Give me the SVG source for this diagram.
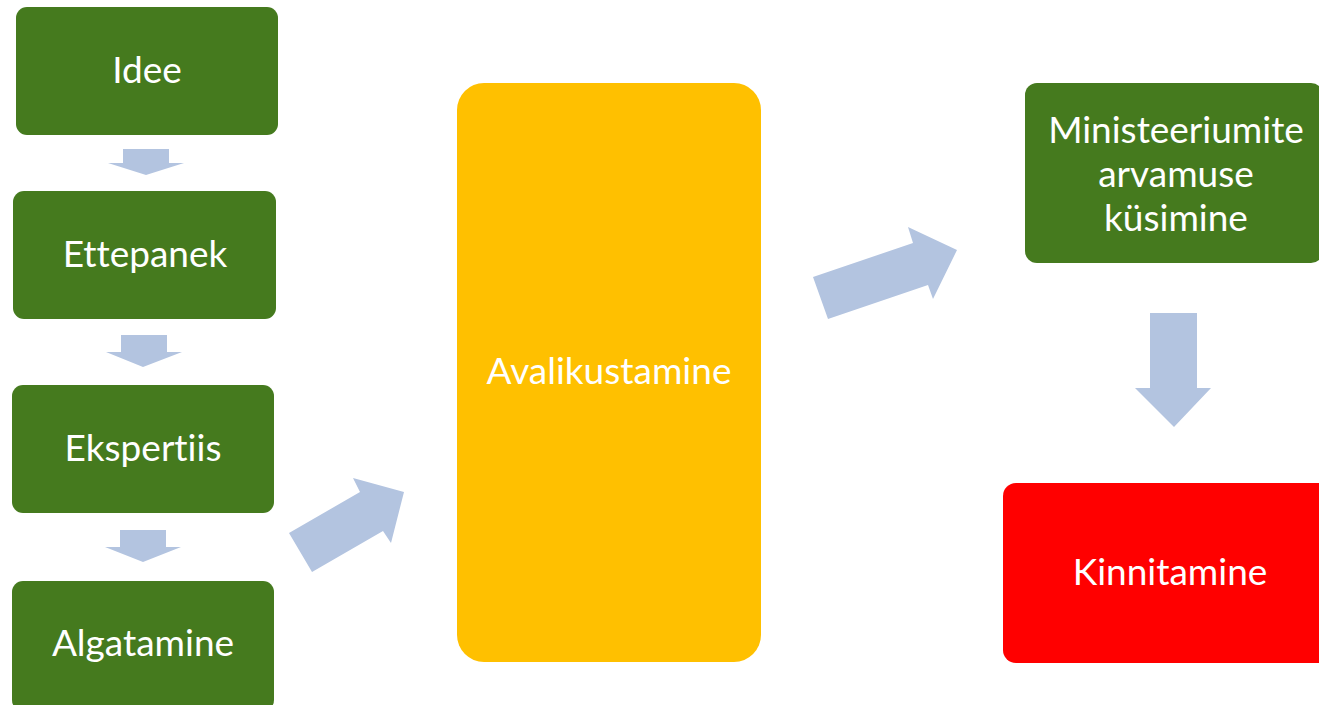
<svg xmlns="http://www.w3.org/2000/svg" width="1319" height="705" viewBox="0 0 1319 705">
<style>
.g{fill:#457A1E}
.t{fill:#fff;font-family:Lato,"Open Sans",sans-serif;font-size:37px;text-anchor:middle;font-variant-ligatures:none;font-feature-settings:"liga" 0,"dlig" 0}
.a{fill:#B3C4E0}
</style>
<rect width="1319" height="705" fill="#fff"/>
<g id="connectors">
<polygon class="a" points="123,149 169,149 169,163 184,163 146,175 108,163 123,163"/>
<polygon class="a" points="121,335 167,335 167,352 182,352 143,367 106,352 121,352"/>
<polygon class="a" points="120,530 166,530 166,547 181,547 143,562 105,547 120,547"/>
<polygon class="a" points="289,533 360,492 353,478 404,492 391,543 383,531 312,572"/>
<polygon class="a" points="813,277 913,243 908,227 957,250 933,299 928,285 828,319"/>
<polygon class="a" points="1150,313 1197,313 1197,388 1211,388 1174,427 1135,388 1150,388"/>
</g>
<g id="idee"><rect class="g" x="16" y="7" width="262" height="128" rx="11"/><text class="t" x="147" y="83">Idee</text></g>
<g id="ettepanek"><rect class="g" x="13" y="191" width="263" height="128" rx="11"/><text class="t" x="145" y="267">Ettepanek</text></g>
<g id="ekspertiis"><rect class="g" x="12" y="385" width="262" height="128" rx="11"/><text class="t" x="143" y="461">Ekspertiis</text></g>
<g id="algatamine"><rect class="g" x="12" y="581" width="262" height="130" rx="11"/><text class="t" x="143" y="656">Algatamine</text></g>
<g id="avalikustamine"><rect x="457" y="83" width="304" height="579" rx="27" fill="#FFC000"/><text class="t" x="609" y="384">Avalikustamine</text></g>
<g id="ministeeriumite"><rect class="g" x="1025" y="83" width="298" height="180" rx="12"/><text class="t" x="1176" y="143">Ministeeriumite</text><text class="t" x="1176" y="187">arvamuse</text><text class="t" x="1176" y="231">küsimine</text></g>
<g id="kinnitamine"><rect x="1003" y="483" width="340" height="180" rx="13" fill="#FF0000"/><text class="t" x="1170" y="585">Kinnitamine</text></g>
</svg>
